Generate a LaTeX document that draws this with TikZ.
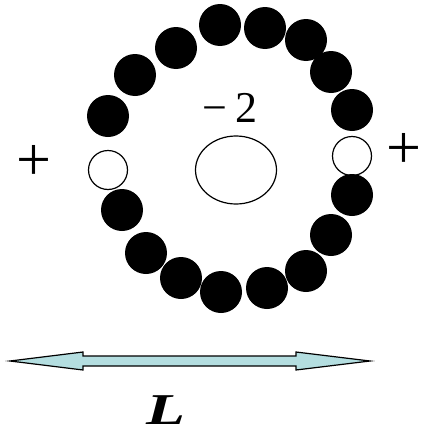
\documentclass[tikz,border=0pt]{standalone}
\usepackage{fontspec}
\setmainfont{Liberation Serif}
\definecolor{arrowfill}{RGB}{180,222,224}
\begin{document}
\begin{tikzpicture}[x=1pt, y=-1pt,
  ball/.style={circle, fill=black, inner sep=0pt, minimum size=42pt},
  hole/.style={circle, draw=black, fill=white, line width=1.2pt, inner sep=0pt, minimum size=39pt},
  sign/.style={inner sep=0pt, font=\fontsize{62}{64}\selectfont},
  every node/.style={inner sep=0pt, font=\fontsize{44}{46}\selectfont}]
  \useasboundingbox (0,0) rectangle (424,434);

  % open sites on the ring
  \node[hole] (h1) at (352,156) {};
  \node[hole] (h2) at (108,170) {};

  % filled sites
  \foreach \name/\x/\y in {
    b1/220/25,   b2/265/28,   b3/306/40,   b4/331/72,
    b5/352/110,  b6/352/195,  b7/331/235,  b8/306/271,
    b9/267/288,  b10/221/292, b11/181/278, b12/146/253,
    b13/122/210, b14/108/116, b15/135/75,  b16/176/48
  }{
    \node[ball] (\name) at (\x,\y) {};
  }

  % centre
  \draw[line width=1.2pt] (236,170) ellipse[x radius=40.5, y radius=34];
  \node (charge) at (230,107.5) {−\kern8pt 2};
  \node[sign] (pl) at (34,163) {+};
  \node[sign] (pr) at (404,151) {+};

  % length arrow
  \coordinate (lt) at (10,361);
  \coordinate (rt) at (370,361);
  \filldraw[fill=arrowfill, draw=black, line width=1.2pt]
    (lt) -- (83,352) -- (83,356) -- (296,356) -- (296,352) -- (rt)
    -- (296,370) -- (296,366) -- (83,366) -- (83,370) -- cycle;
  \node[font=\fontsize{44}{46}\selectfont\bfseries\itshape] (len) at (166,410) {\scalebox{1.45}[1]{L}};
\end{tikzpicture}
\end{document}
